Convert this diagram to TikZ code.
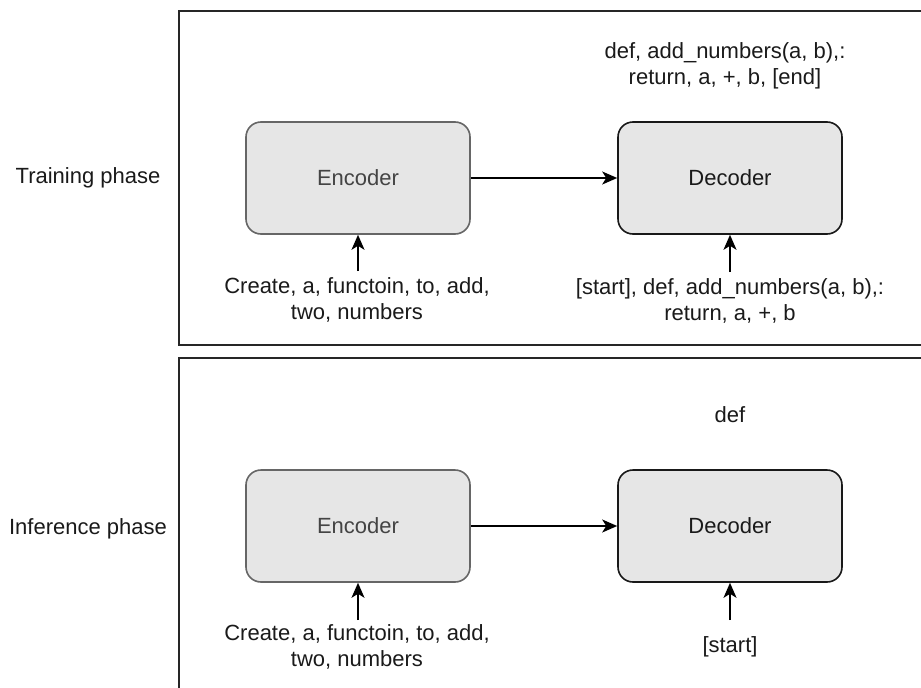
\documentclass[tikz,border=0pt]{standalone}
\usepackage{fontspec}
\setmainfont{Liberation Sans}
\usetikzlibrary{arrows.meta}
\definecolor{boxfill}{HTML}{E6E6E6}
\definecolor{encstroke}{HTML}{666666}
\definecolor{enctext}{HTML}{444444}
\definecolor{inktext}{HTML}{1A1A1A}
\begin{document}
\begin{tikzpicture}[x=1pt,y=-1pt,
  every node/.style={font=\fontsize{22}{26.5}\selectfont, text=inktext, inner sep=0pt},
  phaseframe/.style={draw=black!85, line width=1.8pt},
  encbox/.style={draw=encstroke, fill=boxfill, line width=1.6pt, rounded corners=15pt,
    minimum width=224pt, minimum height=112pt, text=enctext},
  decbox/.style={draw=black!90, fill=boxfill, line width=1.6pt, rounded corners=15pt,
    minimum width=224pt, minimum height=112pt},
  tokens/.style={align=center},
  arr/.style={draw=black, line width=1.6pt, -{Stealth[length=15pt,width=13pt,inset=4pt]}}
]
\useasboundingbox (0,0) rectangle (921,688);
\clip (0,0) rectangle (921,688);

% phase frames (open beyond the right and lower edges)
\draw[phaseframe] (179,11) rectangle (945,345);
\draw[phaseframe] (179,358) rectangle (945,710);

% phase titles
\node (ttrain) at (88,178) {Training phase};
\node (tinfer) at (88,529) {Inference phase};

% training phase
\node[encbox] (enc1) at (358,178) {Encoder};
\node[decbox] (dec1) at (730,178) {Decoder};
\node[tokens] (src1) at (357,300) {Create, a, functoin, to, add,\\two, numbers};
\node[tokens] (tgt1) at (730,301) {[start], def, add\_numbers(a, b),:\\return, a, +, b};
\node[tokens] (out1) at (725,66) {def, add\_numbers(a, b),:\\return, a, +, b, [end]};
\coordinate (s1) at (358,271);
\coordinate (t1) at (730,272);
\draw[arr] (enc1) -- (dec1);
\draw[arr] (s1) -- (enc1.south);
\draw[arr] (t1) -- (dec1.south);

% inference phase
\node[encbox] (enc2) at (358,526) {Encoder};
\node[decbox] (dec2) at (730,526) {Decoder};
\node[tokens] (src2) at (357,647) {Create, a, functoin, to, add,\\two, numbers};
\node (tgt2) at (730,647) {[start]};
\node (out2) at (730,415) {def};
\coordinate (s2) at (358,620);
\coordinate (t2) at (730,620);
\draw[arr] (enc2) -- (dec2);
\draw[arr] (s2) -- (enc2.south);
\draw[arr] (t2) -- (dec2.south);
\end{tikzpicture}
\end{document}
